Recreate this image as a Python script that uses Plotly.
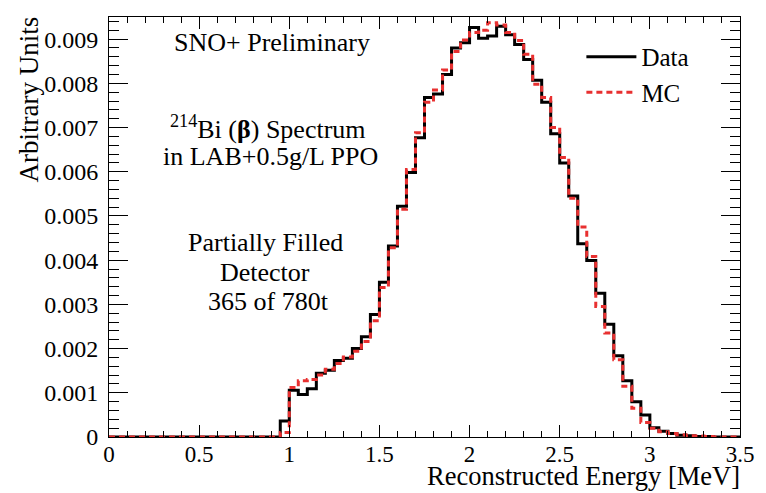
import numpy as np
import plotly.graph_objects as go

# Histogram binning (MeV)
BIN_WIDTH = 0.05
N_BINS = 70

# Normalised counts per bin, starting at 0 MeV
data_counts = [
    0, 0, 0, 0, 0, 0, 0, 0, 0, 0,
    0, 0, 0, 0, 0, 0, 0, 0, 0, 0.00036,
    0.00106, 0.00096, 0.00109, 0.00144, 0.00151, 0.00173, 0.00178, 0.00200, 0.00227, 0.00277,
    0.00350, 0.00432, 0.00522, 0.00598, 0.00677, 0.00768, 0.00776, 0.00820, 0.00880, 0.00892,
    0.00926, 0.00902, 0.00907, 0.00929, 0.00910, 0.00888, 0.00854, 0.00807, 0.00757, 0.00686,
    0.00620, 0.00545, 0.00437, 0.00399, 0.00325, 0.00255, 0.00184, 0.00127, 0.00080, 0.00050,
    0.00021, 0.00013, 0.00008, 0.00004, 0.00003, 0.00001, 0.00001, 0, 0, 0,
]

mc_counts = [
    0, 0, 0, 0, 0, 0, 0, 0, 0, 0,
    0, 0, 0, 0, 0, 0, 0, 0, 0, 0.00010,
    0.00112, 0.00127, 0.00130, 0.00140, 0.00153, 0.00166, 0.00181, 0.00194, 0.00216, 0.00263,
    0.00338, 0.00428, 0.00515, 0.00605, 0.00688, 0.00757, 0.00785, 0.00830, 0.00872, 0.00898,
    0.00915, 0.00920, 0.00937, 0.00932, 0.00915, 0.00897, 0.00866, 0.00798, 0.00768, 0.00700,
    0.00632, 0.00540, 0.00475, 0.00408, 0.00295, 0.00235, 0.00175, 0.00115, 0.00065, 0.00033,
    0.00020, 0.00012, 0.00008, 0.00005, 0.00003, 0.00002, 0.00001, 0, 0, 0,
]

x_ticks = [0, 0.5, 1, 1.5, 2, 2.5, 3, 3.5]
x_ticktext = ["0", "0.5", "1", "1.5", "2", "2.5", "3", "3.5"]
y_ticks = [0, 0.001, 0.002, 0.003, 0.004, 0.005, 0.006, 0.007, 0.008, 0.009]
y_ticktext = ["0", "0.001", "0.002", "0.003", "0.004", "0.005", "0.006", "0.007", "0.008", "0.009"]

edges = np.arange(N_BINS + 1) * BIN_WIDTH


def step_y(vals):
    return list(vals) + [vals[-1]]


FONT = "Liberation Serif"
W, H = 766, 493
ML, MR, MT, MB = 109, 22.5, 17, 55.5
PW, PH = W - ML - MR, H - MT - MB


def px(x):
    return (x - ML) / PW


def py(y):
    return (H - MB - y) / PH


fig = go.Figure()
fig.add_trace(go.Scatter(
    x=edges, y=step_y(data_counts), mode="lines", name="Data",
    line=dict(color="black", width=3, shape="hv"),
))
fig.add_trace(go.Scatter(
    x=edges, y=step_y(mc_counts), mode="lines", name="MC",
    line=dict(color="#e83030", width=3, shape="hv", dash="6px,4px"),
))

axis_common = dict(
    showline=True, linecolor="black", linewidth=1, mirror="ticks",
    ticks="inside", tickcolor="black", tickwidth=1,
    showgrid=False, zeroline=False,
)

fig.update_xaxes(
    range=[0, 3.5], tickvals=x_ticks, ticktext=x_ticktext, ticklen=12,
    minor=dict(ticks="inside", ticklen=6, dtick=0.1, tickcolor="black", tickwidth=1, showgrid=False),
    ticklabelstandoff=-4,
    tickfont=dict(family=FONT, size=23, color="black"),
    **axis_common,
)
fig.update_yaxes(
    range=[0, 0.0095], tickvals=y_ticks, ticktext=y_ticktext, ticklen=19,
    minor=dict(ticks="inside", ticklen=10, dtick=0.0002, tickcolor="black", tickwidth=1, showgrid=False),
    ticklabelstandoff=5,
    tickfont=dict(family=FONT, size=24, color="black"),
    **axis_common,
)

annotations = [
    dict(text="SNO+ Preliminary", x=px(273), y=py(43)),
    dict(text="<sup>214</sup>Bi (<b>β</b>) Spectrum", x=px(269), y=py(128)),
    dict(text="in LAB+0.5g/L PPO", x=px(271), y=py(157)),
    dict(text="Partially Filled", x=px(266), y=py(243)),
    dict(text="Detector", x=px(266), y=py(273)),
    dict(text="365 of 780t", x=px(269), y=py(302)),
]
for a in annotations:
    a.update(xref="paper", yref="paper", showarrow=False, xanchor="center", yanchor="middle",
             font=dict(family=FONT, size=26, color="black"))

annotations.append(dict(
    text="Reconstructed Energy [MeV]", xref="paper", yref="paper",
    x=px(746), y=py(494), xanchor="right", yanchor="bottom", showarrow=False,
    font=dict(family=FONT, size=26.5, color="black"),
))
annotations.append(dict(
    text="Arbitrary Units", xref="paper", yref="paper", textangle=-90,
    x=px(29), y=py(14), xanchor="center", yanchor="top", showarrow=False,
    font=dict(family=FONT, size=27, color="black"),
))

fig.update_layout(
    width=W, height=H,
    margin=dict(l=ML, r=MR, t=MT, b=MB),
    paper_bgcolor="white", plot_bgcolor="white",
    annotations=annotations,
    showlegend=True,
    legend=dict(
        x=px(584), y=py(34), xanchor="left", yanchor="top",
        bgcolor="rgba(0,0,0,0)", borderwidth=0, itemwidth=50, tracegroupgap=0,
        font=dict(family=FONT, size=25, color="black"),
    ),
)

fig.write_html("out.html")
